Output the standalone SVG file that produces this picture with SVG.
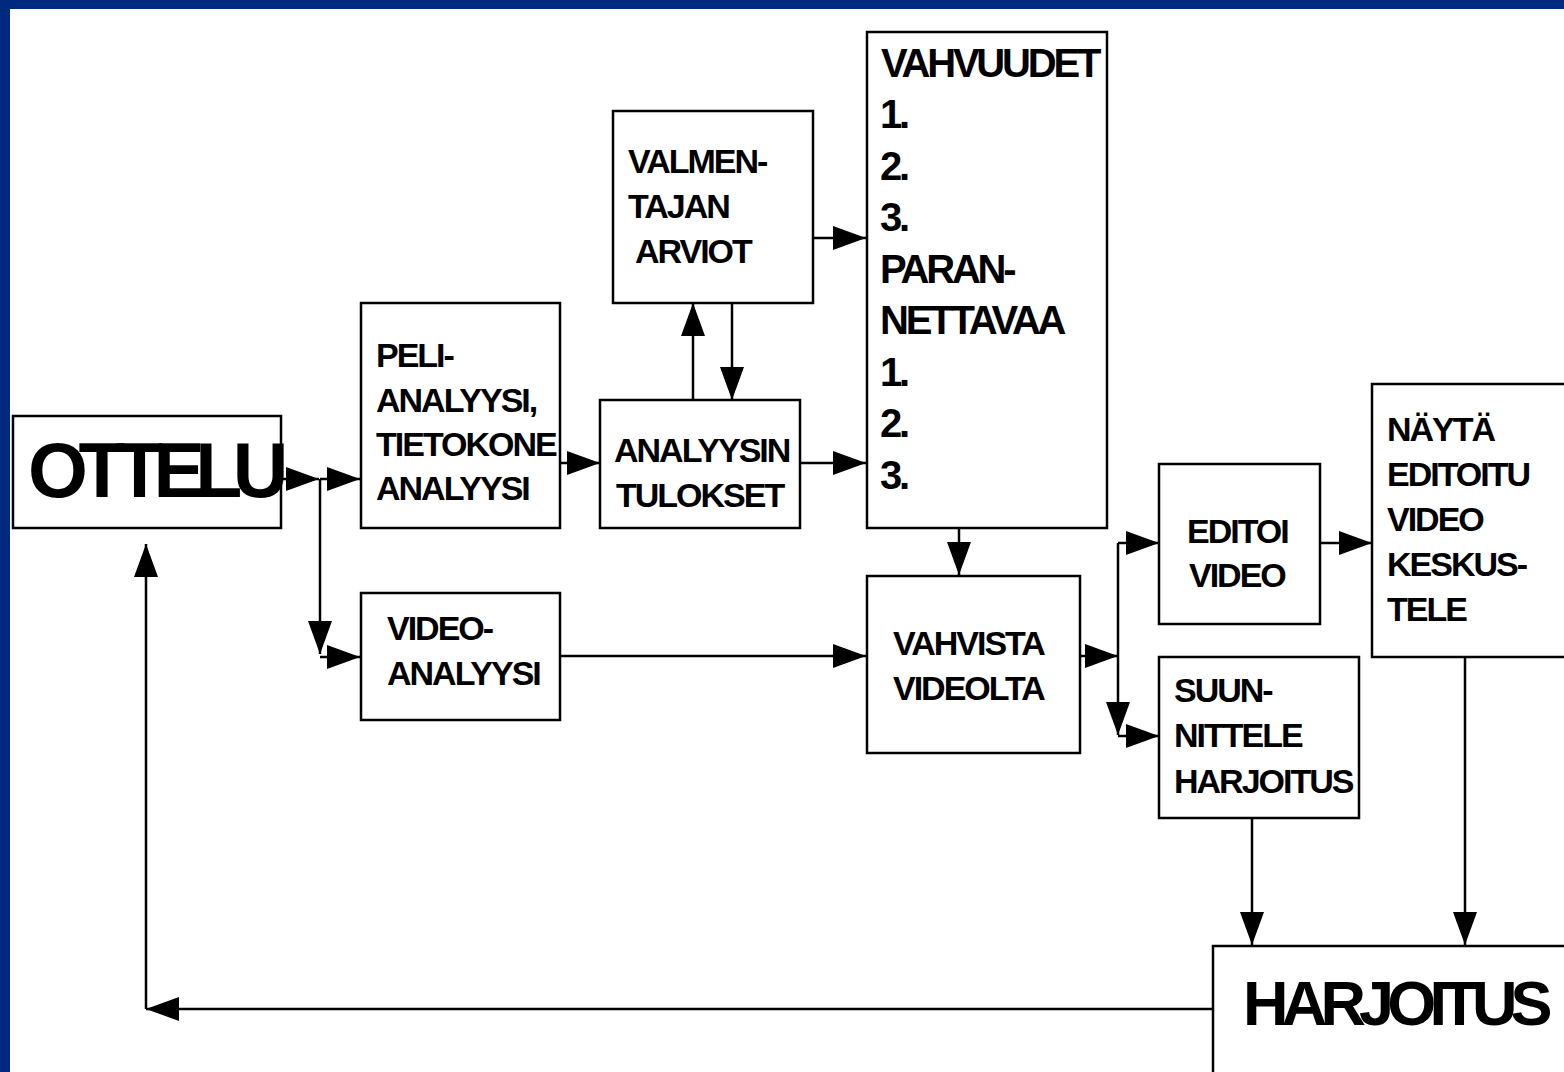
<svg xmlns="http://www.w3.org/2000/svg" width="1564" height="1072" viewBox="0 0 1564 1072">
<style>
.box{fill:#fff;stroke:#000;stroke-width:2.5}
.ln{fill:none;stroke:#000;stroke-width:2.5}
.a{marker-end:url(#ah)}
text{font-family:"Liberation Sans",Arial,sans-serif;font-weight:bold;fill:#000}
.t{font-size:34px;letter-spacing:-2px}
.m{font-size:40px;letter-spacing:-3.2px}
</style>
<defs>
<marker id="ah" viewBox="0 0 33 24" refX="33" refY="12" markerWidth="33" markerHeight="24" orient="auto" markerUnits="userSpaceOnUse">
<path d="M0,0 L33,12 L0,24 Z" fill="#000"/>
</marker>
</defs>
<rect x="0" y="0" width="1564" height="1072" fill="#fff"/>
<rect x="0" y="0" width="1564" height="9" fill="#00297f"/>
<rect x="0" y="0" width="10" height="1072" fill="#00297f"/>

<g id="ottelu"><rect class="box" x="13" y="416" width="268" height="112"/><text x="28" y="497" style="font-size:77px;letter-spacing:-9.5px">OTTELU</text></g>
<g id="peli"><rect class="box" x="361" y="303" width="199" height="225"/>
<text class="t" x="376"><tspan x="376" y="367">PELI-</tspan><tspan x="376" y="412">ANALYYSI,</tspan><tspan x="376" y="456">TIETOKONE</tspan><tspan x="376" y="500">ANALYYSI</tspan></text></g>
<g id="videoanalyysi"><rect class="box" x="361" y="593" width="199" height="127"/>
<text class="t"><tspan x="387" y="640">VIDEO-</tspan><tspan x="387" y="685">ANALYYSI</tspan></text></g>
<g id="valmentajan"><rect class="box" x="613" y="111" width="200" height="192"/>
<text class="t"><tspan x="628" y="173">VALMEN-</tspan><tspan x="628" y="218">TAJAN</tspan><tspan x="635" y="263">ARVIOT</tspan></text></g>
<g id="analyysin"><rect class="box" x="600" y="400" width="200" height="128"/>
<text class="t"><tspan x="614" y="462">ANALYYSIN</tspan><tspan x="616" y="507">TULOKSET</tspan></text></g>
<g id="vahvuudet"><rect class="box" x="867" y="32" width="240" height="496"/>
<text class="m"><tspan x="881" y="77">VAHVUUDET</tspan><tspan x="880" y="128">1.</tspan><tspan x="880" y="180">2.</tspan><tspan x="880" y="231">3.</tspan><tspan x="880" y="283">PARAN-</tspan><tspan x="880" y="334">NETTAVAA</tspan><tspan x="880" y="386">1.</tspan><tspan x="880" y="437">2.</tspan><tspan x="880" y="489">3.</tspan></text></g>
<g id="vahvista"><rect class="box" x="867" y="576" width="213" height="177"/>
<text class="t"><tspan x="893" y="655">VAHVISTA</tspan><tspan x="893" y="700">VIDEOLTA</tspan></text></g>
<g id="editoi"><rect class="box" x="1159" y="464" width="161" height="160"/>
<text class="t"><tspan x="1187" y="543">EDITOI</tspan><tspan x="1189" y="587">VIDEO</tspan></text></g>
<g id="suunnittele"><rect class="box" x="1159" y="657" width="200" height="161"/>
<text class="t"><tspan x="1174" y="702">SUUN-</tspan><tspan x="1174" y="747">NITTELE</tspan><tspan x="1174" y="793">HARJOITUS</tspan></text></g>
<g id="nayta"><rect class="box" x="1372" y="384" width="200" height="273"/>
<text class="t"><tspan x="1387" y="441">NÄYTÄ</tspan><tspan x="1387" y="486">EDITOITU</tspan><tspan x="1387" y="531">VIDEO</tspan><tspan x="1387" y="576">KESKUS-</tspan><tspan x="1387" y="621">TELE</tspan></text></g>
<g id="harjoitus"><rect class="box" x="1213" y="946" width="360" height="140"/>
<text x="1243" y="1025" style="font-size:63px;letter-spacing:-6.8px">HARJOITUS</text></g>

<g id="connectors">
<line class="ln a" x1="281" y1="479" x2="319" y2="479"/>
<line class="ln a" x1="320" y1="479" x2="360" y2="479"/>
<line class="ln a" x1="320" y1="479" x2="320" y2="654"/>
<line class="ln a" x1="320" y1="657" x2="360" y2="657"/>
<line class="ln a" x1="560" y1="463" x2="600" y2="463"/>
<line class="ln a" x1="693" y1="400" x2="693" y2="303"/>
<line class="ln a" x1="732" y1="303" x2="732" y2="400"/>
<line class="ln a" x1="813" y1="238" x2="866" y2="238"/>
<line class="ln a" x1="800" y1="463" x2="866" y2="463"/>
<line class="ln a" x1="560" y1="656" x2="866" y2="656"/>
<line class="ln a" x1="959" y1="528" x2="959" y2="575"/>
<line class="ln a" x1="1080" y1="656" x2="1118" y2="656"/>
<line class="ln a" x1="1118" y1="543" x2="1118" y2="735"/>
<line class="ln a" x1="1118" y1="543" x2="1159" y2="543"/>
<line class="ln a" x1="1118" y1="736" x2="1159" y2="736"/>
<line class="ln a" x1="1320" y1="543" x2="1372" y2="543"/>
<line class="ln a" x1="1252" y1="818" x2="1252" y2="945"/>
<line class="ln a" x1="1465" y1="657" x2="1465" y2="945"/>
<line class="ln a" x1="1213" y1="1009" x2="146" y2="1009"/>
<line class="ln a" x1="146" y1="1009" x2="146" y2="544"/>
</g>
</svg>
